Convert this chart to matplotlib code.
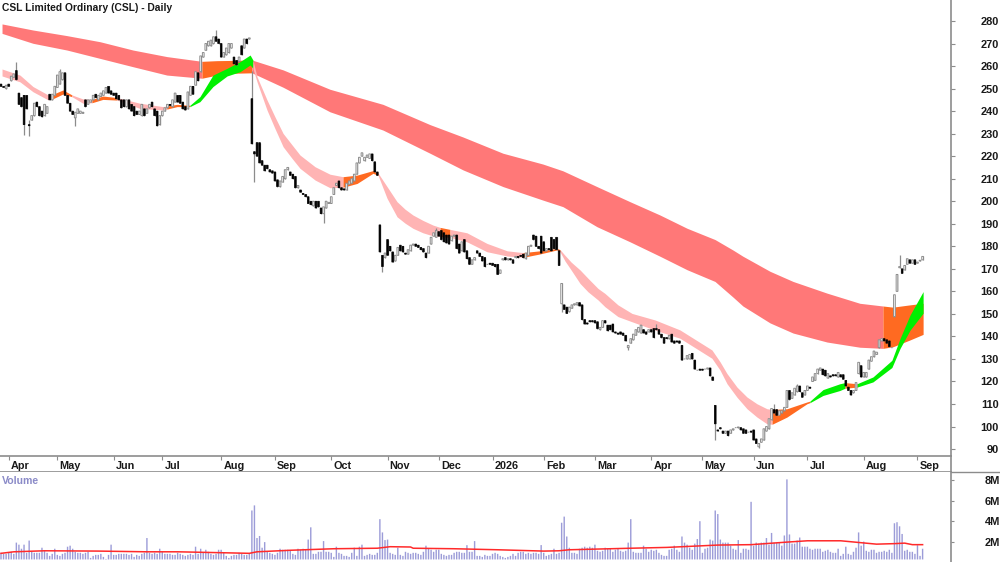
import matplotlib
matplotlib.use('Agg')
import matplotlib.pyplot as plt
from matplotlib.lines import Line2D
import numpy as np

plt.rcParams['font.family'] = ['Liberation Sans', 'DejaVu Sans']

# daily candles, one value per trading day
opens = [252,251,250,252,253.5,255,258,248,246,247,247,234,236,238,244,242,240,238,239,247.5,
245,247,250.5,252,254,257,247,243.5,240,237,239,239,239,245,243,244,245,247.5,245,246.5,
247,248,251,249,248,248,247,245,245,242,245,243,242,240,238.5,238,241,239,241.5,244,
241,240,234,238,240,241.5,243,242,244,247,247,244,242,241,247,251,251.5,257,257.5,264,
267,269,269,270,273,272,270,264,265,266,268,264,262.5,262,269,268,272,272,245.5,222,
226,226,218,216,216,214,213.5,213,209.5,206.5,208.5,210,214,213,212,211,206,205,203.5,203,
202,200,198,200,200,197,194.5,197,199,199,203,207,209,206,205.5,205,207.5,208,209,212,
217,220,218,219.5,219,221,217.5,213,189.5,176,175,183,180,177.5,173.5,176,180.5,180,177,176.5,
178,180.5,181,180.5,179.5,179,177,177,181,184.5,184,186.5,187,186,185,185,182.5,184.5,185,181,
178,183,178,175,172,174,178,177,175.5,175,172,172.5,172.5,172,172,168,174,175,174,174.5,
174,175,175.5,176,176.5,174.5,176,180,185,184.5,180,184.5,182,178,179,184,183,184,178,154.5,
154,153,151,152.5,154,154,155,154,147.5,146,147,147,147,146.5,143,144,147,145,145,145.5,
142,141.5,142,141.5,140.5,135,137,138.5,140.5,142,141.5,143,142,142,143,143.5,143.5,143,141,139.5,
139.5,139,141,138,138,138,136,130,130,130,132.5,129.5,125,125.5,125.5,125.5,125.5,126,122,109.4,
98.5,99.5,98,97,98,97,98.5,99.5,99.5,99.5,99,98.5,97.5,98,98.5,94.5,91,93,94,98,
99,103,107.5,107.5,105,106,107,108.5,116,112.5,114,115.5,118,115,114,116,117.5,120,120.5,123.5,
125,125.5,125,121.5,122.5,123,123,122,123,123,120.5,117.5,116,115,116,123.5,127,122,122,125.5,
129,131,132,135,138,139,138.5,138,135,148.8,160,170.5,170,169.5,172,174,172.5,174,172.5,173.5,
174]
closes = [251,250.5,251.5,251,255.5,256.5,254,243,242,234,241,233.5,238,243.5,242,238,237.5,243,242,245,
247.5,251,256,257.5,257,247,243.5,240,238.5,239.5,241,240,239.5,242,245,245,247,246,247,248,
249,250.5,248,247.5,247,245.5,245,241.5,242,245,241,240,238,238.5,240,243,238,241,243,242,
238,233.5,238,240,241.5,243,242.5,245,248,244,243.5,241,240.5,248.5,251,247.5,257.5,253.5,264.5,266,
270,271,271.5,273,271,270,264,266,268,270,270,261,260.5,264,265,272,270,272.5,225.5,221,
220,217,216,213.5,214.5,213,212.5,209,206.5,209,211,214,215,211.5,210,206,207,204,203,202,
199,198.5,200,197,197.5,194.5,197.5,200,199.5,202,206,208,206,205,205,208,209,210,212,217,
219.5,221.5,219.5,220.5,221,218,213,211.5,177.5,171,177,176,178,173,176,179.5,178,177.5,176.5,178.5,
180.5,181,180,179.5,178.5,177.5,175,180,184,186,187,184.5,183,182,181.5,181,184.5,185,179,177,
182,177.5,174.5,172,174,175,177,175.5,173.5,171,172,172,171.5,171,167.5,169.5,174.5,174,174.5,174,
172.5,175.5,175,175.5,175,177,180,180.5,183,180,179,177,178,179,178.5,178,179,178.5,171.5,163.5,
152,150.2,153,154,154.5,155,153.5,147.5,145.5,145.5,146.5,146.5,146,143.5,144,147,146,142.5,143,142,
141.5,141,141,140.5,138,136,139,141,143,144,145,141.5,141,143,142,139.5,143,141,139.5,137,
139,140.5,137.5,137,137.5,137,129.5,130,131.5,132,130,125.5,125,125,125,125.5,126,122.5,120.5,101.2,
98,99,97,98,96,98.5,99,99.5,99.8,98.5,97,97,97.5,97.5,94,92.5,92.5,94.5,99,100,
103.5,108,106,105,107,107,108.5,116,112,115,117,118,115.5,113,116,118,117,122,123.5,125.5,
126,123,122.5,123.5,122,122.5,122.5,124,122,121,118,116,114,116,119.5,128.5,122,124,124,129.5,
131,133.5,133,138.5,139,138,137,135.5,135,158.5,167.5,171,168,171.5,174.5,172.5,174,172,173,173.8,
175.5]
# bars whose wick stands out: index -> (high, low)
long_wicks = {6: (262, 254), 9: (247, 229.5), 11: (236, 229), 23: (258.5, 252), 29: (239.5, 233.5),
              84: (276, 271), 98: (258, 225.5), 99: (222, 208.7), 126: (197.5, 190.5), 149: (176, 168.5),
              170: (188, 184), 219: (163.5, 151), 245: (136, 134), 256: (145.5, 143), 279: (109.4, 94),
              296: (92.5, 90.5), 302: (110, 106), 311: (119, 115.5), 351: (176, 170.5)}

volumes = [.9,.8,.8,.9,1.0,.8,1.9,1.7,1.3,1.7,.9,2.1,1.0,.9,.9,.9,1.4,1.1,.9,.6,
.8,1.3,.7,.6,.8,.9,1.5,1.6,1.3,1.0,.9,.9,.8,.9,1.0,.4,.6,.7,.7,.8,
.5,.3,.7,1.7,.7,.7,.8,.8,.8,.8,.7,.8,.5,.7,.6,.8,.9,2.35,.9,.8,
.9,.8,1.3,1.0,.8,.8,.8,.7,.7,.9,.8,.7,.6,.7,.8,.7,1.5,.8,1.3,.9,
1.2,1.0,.8,.7,.8,1.2,1.2,.9,.6,.4,.6,.7,.7,.9,.8,.7,.7,.8,5.05,5.55,
2.35,2.55,1.4,1.95,1.0,.9,.8,.7,.9,1.3,1.2,1.2,1.2,1.1,.8,.7,1.3,1.2,1.3,1.2,
2.2,3.4,.8,.8,1.0,1.0,2.05,1.0,1.0,.9,.5,1.5,.9,.8,.6,.6,.5,.9,1.4,.6,
1.5,1.7,.6,.7,.8,.7,.7,.9,4.2,2.9,2.15,2.2,.9,.8,.7,1.4,.7,.6,1.0,.9,
.8,.9,.9,.8,.7,1.0,1.6,1.3,1.2,1.0,1.2,1.2,.8,.7,.6,.7,.7,.9,1.0,1.0,
.9,.9,1.65,1.0,1.0,2.05,.6,.6,.5,.7,.6,.6,.8,.9,.8,.6,.5,.4,.5,.6,
.8,.6,.9,1.0,1.0,.8,.9,.8,.9,.9,.8,1.66,.9,.6,.7,.8,1.3,.8,.9,3.85,
4.45,2.5,1.4,.9,.9,.8,1.3,1.4,1.5,1.4,1.5,1.4,1.7,1.1,1.0,1.1,1.4,1.3,1.3,1.0,
1.2,1.3,1.1,1.0,1.1,1.9,4.2,1.0,.9,.9,.9,1.6,1.3,1.0,1.2,1.1,1.2,.9,.7,.6,
.6,1.2,1.3,1.6,1.2,1.0,2.5,1.9,1.7,1.4,1.2,1.8,2.25,4.0,.9,1.3,1.4,2.2,2.1,5.05,
4.7,2.2,1.9,1.9,1.9,1.6,1.3,1.2,2.15,.9,1.3,1.3,1.2,5.9,1.6,1.9,1.8,1.9,1.9,2.35,
1.7,2.85,1.9,1.9,1.9,1.6,2.6,8.1,2.7,1.8,1.8,2.1,2.4,1.5,1.5,1.5,1.3,1.2,1.3,1.3,
1.3,1.0,1.1,1.2,1.0,.9,.9,1.3,.6,.8,1.5,.8,.7,1.0,1.4,2.9,1.6,2.0,1.1,1.0,
1.2,1.2,.9,1.0,1.0,1.1,1.0,1.2,.9,3.8,3.9,3.5,2.75,1.1,1.2,1.0,1.0,.8,1.65,.6,
1.3]

# volume average, read at a few places
vol_avg_x = [0,5,17,38,57,69,88,97,100,113,130,147,152,160,161,177,194,212,218,222,246,260,280,293,307,315,328,342,349,353,356,360]
vol_avg = [.85,1.0,1.1,1.07,1.0,1.0,.9,.85,1.0,1.15,1.3,1.35,1.5,1.47,1.35,1.3,1.2,1.07,1.1,1.2,1.35,1.43,1.66,1.7,1.95,2.08,2.08,1.75,1.8,1.85,1.7,1.7]

# slow (long term) band edges
long_x = [.4,12.5,25.8,38.7,51.6,64.8,78.5,84.4,90.6,98,110.2,128.5,149.2,167.6,180.5,196.1,211.7,219.5,232.8,245.7,
          257.4,268,278.9,286,289.8,300.4,309.4,322.7,335.5,344.5,348.4,355,360.2]
long_top = [278.7,276,273.5,270.8,267.1,264.2,262.1,262.4,262.5,262.7,258.3,249.7,243,234,228.5,221.3,216.5,213.5,206.5,199.8,
            193.9,188,183,178.3,175.6,168.9,164.4,159.2,154.7,153.5,153,154,154.7]
long_bot = [274.5,270.1,267.1,263.4,259.7,256,254.6,256,256.8,257,250.6,239.7,231.6,221.3,213.9,206.5,200.5,197.6,188.7,182,
            175.6,169.6,164.4,157.4,153.5,146,141.5,137.5,135.2,134.7,135.4,138.4,140.9]
long_breaks = [.4,78.5,98,344.5,360.2]
long_colors = ['#FF7878','#FF6A21','#FF7878','#FF6A21']

# fast (short term) band edges
short_x = [.4,7.4,12.5,18.4,20.3,24.2,27.7,32,35.5,39.8,45.3,54.3,63.3,64.8,68.8,73.8,77.7,82.8,88.3,93.4,
           97.3,98.4,100,103.9,107,110.2,113.7,116.8,122.7,128.5,133.6,139.1,145.3,147.3,150.8,154.7,157.8,160.9,164.8,168.8,
           171.5,175.4,182,189.8,197.7,203.9,210.5,217.2,218.4,220.3,222.7,226.2,229.3,233.2,235.9,241,246.5,255.5,265.2,277.7,
           280.9,283.6,287.5,291.4,295.3,299.2,301.2,307,314.8,316,321.1,327.7,329.7,334.4,340.6,348,351.2,355.1,360.2]
short_top = [258.7,256,250.9,247.2,247.5,249.4,247.2,245.4,245.2,246.7,246,243.5,242,242.3,243,242.6,246.4,256,259,262,
             264.9,262.7,255.3,245,237.5,230.1,225,220.5,215.3,212,210.9,211.6,213.6,212.5,206.5,199.8,196.5,193.9,191.5,189.4,
             188.4,187.5,186,181.3,178,177.2,178,179.1,178.5,176,173,169.5,165.8,161.3,159.1,154,150.2,147.3,142.9,134,
             128.7,123.5,117.5,113.1,110.1,107.9,107.6,107.9,110.9,111.3,116.4,119,119.5,119,122,129.4,139.1,149.5,159.9]
short_bot = [255.6,253,248.6,245,245.5,247.6,246.4,243.5,243.7,245.2,244.9,241.2,240.5,240.9,242,242,244.2,250.9,255.6,257.5,
             260.5,259,253,240.5,232.3,224.2,219,214.6,209.4,206,206.2,207.9,212.4,211.5,201.3,193.1,190.3,188,186,184.6,
             184.3,184,182,177.6,175.7,175.1,176.6,178.4,177.5,173.5,169.5,163.5,159.8,156.2,153.2,148.8,146.5,142.8,139.2,130.3,
             125,119,113,107.9,104.2,101.2,101,104.2,110.1,110.6,113.8,116,117,117.5,119.8,126.2,134.7,142.8,150.3]
short_breaks = [.4,20.3,27.7,35.5,45.3,64.8,73.8,98.4,133.6,147.3,171.5,175.4,203.9,218.4,301.2,316,329.7,334.4,360.2]
PINK, ORANGE, GREEN = '#FFB4B4', '#FF6A21', '#00F000'
short_colors = [PINK,ORANGE,PINK,ORANGE,PINK,ORANGE,GREEN,PINK,ORANGE,PINK,ORANGE,PINK,ORANGE,PINK,ORANGE,GREEN,ORANGE,GREEN]

month_ticks = [3,22,44,63,86,107,129,151,171,192,212,232,254,274,294,315,337,358]
month_labels = ['Apr','May','Jun','Jul','Aug','Sep','Oct','Nov','Dec','2026','Feb','Mar','Apr','May','Jun','Jul','Aug','Sep']
price_ticks = list(range(90, 290, 10))
vol_ticks = [2, 4, 6, 8]


def draw_band(ax, xs, top, bot, breaks, colors):
    xs = np.array(xs)
    top = np.array(top)
    bot = np.array(bot)
    for start, end, col in zip(breaks[:-1], breaks[1:], colors):
        m = (xs >= start) & (xs <= end)
        ax.fill_between(xs[m], bot[m], top[m], color=col, linewidth=0, zorder=2)


W, H = 1000.0, 562.0
AXIS_X = 951.0
x_lim = (-0.39, (AXIS_X - 1) / 2.56)
GREY = '#8C8C8C'

fig = plt.figure(figsize=(10, 5.62), dpi=100)
ax = fig.add_axes([0, (H - 456) / H, AXIS_X / W, 456 / H])
ax_date = fig.add_axes([0, (H - 472) / H, AXIS_X / W, 16 / H])
ax_vol = fig.add_axes([0, 0, AXIS_X / W, 90 / H])

# price panel
draw_band(ax, long_x, long_top, long_bot, long_breaks, long_colors)
draw_band(ax, short_x, short_top, short_bot, short_breaks, short_colors)

x = np.arange(len(closes))
o = np.array(opens, dtype=float)
c = np.array(closes, dtype=float)
hi = np.maximum(o, c)
lo = np.minimum(o, c)
for i, (h, l) in long_wicks.items():
    hi[i] = h
    lo[i] = l
ax.vlines(x, lo, hi, color=GREY, linewidth=0.9, zorder=3)
up = c >= o
ups = ax.bar(x[up], (c - o)[up], bottom=o[up], width=0.66, facecolor='white', edgecolor=GREY, linewidth=0.7, zorder=4)
downs = ax.bar(x[~up], (o - c)[~up], bottom=c[~up], width=0.66, facecolor='black', edgecolor='black', linewidth=0.5, zorder=4)
for r in list(ups) + list(downs):
    r.set_snap(False)

ax.set_xlim(x_lim)
ax.set_ylim(280 - (456 - 21) / 2.253, 280 + 21 / 2.253)
ax.set_xticks([])
ax.set_yticks(price_ticks)
ax.yaxis.tick_right()
ax.tick_params(axis='y', length=3, width=0.8, color=GREY, pad=31.5)
for lab in ax.get_yticklabels():
    lab.set_ha('right')
    lab.set_fontsize(7.9)
    lab.set_fontweight('bold')
    lab.set_color('#1A1A1A')
for s in ['top', 'left', 'bottom']:
    ax.spines[s].set_visible(False)
ax.spines['right'].set_color(GREY)
ax.spines['right'].set_linewidth(1.2)
fig.text(2 / W, 1 - 8 / H, 'CSL Limited Ordinary (CSL) - Daily', fontsize=7.4, fontweight='bold',
         color='#1A1A1A', va='center', ha='left')

# date strip
ax_date.set_xlim(x_lim)
ax_date.set_ylim(0, 1)
ax_date.set_yticks([])
ax_date.set_xticks(month_ticks)
ax_date.set_xticklabels([])
ax_date.tick_params(axis='x', direction='in', top=True, bottom=False, length=3, width=0.8, color=GREY)
for tick, lab in zip(month_ticks, month_labels):
    ax_date.annotate(lab, (tick, 0.4), xytext=(1.5, 0), textcoords='offset points', fontsize=7.8,
                     fontweight='bold', color='#1A1A1A', va='center', ha='left')
for s in ax_date.spines.values():
    s.set_color(GREY)
    s.set_linewidth(1.2)
ax_date.spines['left'].set_visible(False)
# the lower strip line runs on under the price scale
fig.add_artist(Line2D([AXIS_X / W, 1], [(H - 472) / H] * 2, color=GREY, linewidth=1.0))

# volume panel
vol_bars = ax_vol.bar(x, np.array(volumes) - 0.25, bottom=0.25, width=0.55, color='#9C9CD8', linewidth=0, zorder=2)
for r in vol_bars:
    r.set_snap(False)
ax_vol.plot(vol_avg_x, vol_avg, color='#FF2A2A', linewidth=1.1, zorder=3)
ax_vol.set_xlim(x_lim)
ax_vol.set_ylim(0, 90 / 10.2)
ax_vol.set_xticks([])
ax_vol.set_yticks(vol_ticks)
ax_vol.set_yticklabels(['%dM' % v for v in vol_ticks])
ax_vol.yaxis.tick_right()
ax_vol.tick_params(axis='y', length=2, width=0.8, color=GREY, pad=33.5)
for lab in ax_vol.get_yticklabels():
    lab.set_ha('right')
    lab.set_fontsize(7.9)
    lab.set_fontweight('bold')
    lab.set_color('#1A1A1A')
for s in ['top', 'left', 'bottom']:
    ax_vol.spines[s].set_visible(False)
ax_vol.spines['right'].set_color(GREY)
ax_vol.spines['right'].set_linewidth(1.2)
fig.text(2 / W, 1 - 481 / H, 'Volume', fontsize=7.6, fontweight='bold', color='#8B8BC8', va='center', ha='left')

fig.savefig('out.png', dpi=100)
